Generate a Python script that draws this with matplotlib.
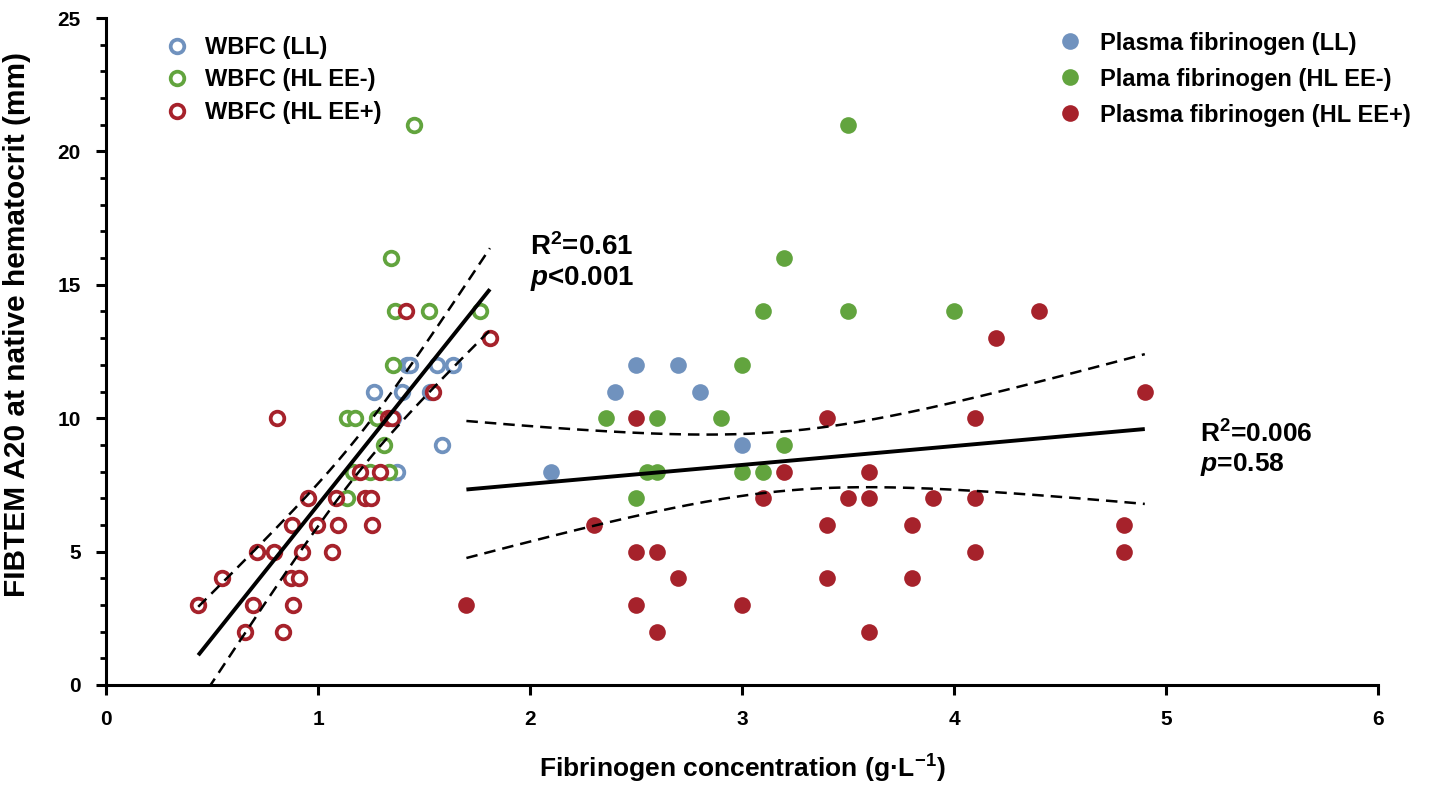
import numpy as np
import matplotlib
matplotlib.use("Agg")
import matplotlib.pyplot as plt

# ---------------- data ----------------
wbfc_ll_x = [1.418, 1.434, 1.56, 1.635, 1.264, 1.395, 1.53, 1.355, 1.583, 1.374]
wbfc_ll_y = [12, 12, 12, 12, 11, 11, 11, 10, 9, 8]

wbfc_hl_neg_x = [1.454, 1.343, 1.363, 1.524, 1.764, 1.352, 1.135, 1.175, 1.28, 1.313, 1.167, 1.245, 1.336, 1.135]
wbfc_hl_neg_y = [21, 16, 14, 14, 14, 12, 10, 10, 10, 9, 8, 8, 8, 7]

wbfc_hl_pos_x = [1.415, 1.811, 1.544, 0.805, 1.332, 1.347, 1.198, 1.292, 0.954, 1.083, 1.222, 1.249,
                 0.876, 0.994, 1.096, 1.253, 0.714, 0.794, 0.925, 1.065, 0.546, 0.873, 0.912,
                 0.435, 0.695, 0.884, 0.656, 0.833]
wbfc_hl_pos_y = [14, 13, 11, 10, 10, 10, 8, 8, 7, 7, 7, 7, 6, 6, 6, 6, 5, 5, 5, 5, 4, 4, 4, 3, 3, 3, 2, 2]

plasma_ll_x = [2.1, 2.4, 2.5, 2.7, 2.8, 3.0]
plasma_ll_y = [8, 11, 12, 12, 11, 9]

plasma_hl_neg_x = [2.36, 2.5, 2.55, 2.6, 2.6, 2.9, 3.0, 3.0, 3.1, 3.1, 3.2, 3.2, 3.5, 3.5, 4.0]
plasma_hl_neg_y = [10, 7, 8, 8, 10, 10, 12, 8, 8, 14, 16, 9, 21, 14, 14]

plasma_hl_pos_x = [1.7, 2.3, 2.5, 2.5, 2.5, 2.6, 2.6, 2.7, 3.0, 3.1, 3.2, 3.4, 3.4, 3.4, 3.5, 3.6, 3.6,
                   3.6, 3.8, 3.8, 3.9, 4.1, 4.1, 4.1, 4.2, 4.4, 4.8, 4.8, 4.9]
plasma_hl_pos_y = [3, 6, 10, 5, 3, 5, 2, 4, 3, 7, 8, 10, 6, 4, 7, 8, 7, 2, 6, 4, 7, 10, 7, 5, 13, 14, 6, 5, 11]

x_ticks = [0, 1, 2, 3, 4, 5, 6]
y_ticks = [0, 5, 10, 15, 20, 25]

wbfc_labels = ["WBFC (LL)", "WBFC (HL EE-)", "WBFC (HL EE+)"]
plasma_labels = ["Plasma fibrinogen (LL)", "Plama fibrinogen (HL EE-)", "Plasma fibrinogen (HL EE+)"]

BLUE = "#7092BE"
GREEN = "#62A43E"
RED = "#A6222B"

# ---------------- style ----------------
plt.rcParams["font.family"] = ["Liberation Sans", "DejaVu Sans"]
plt.rcParams["font.weight"] = "bold"
plt.rcParams["mathtext.fontset"] = "custom"
plt.rcParams["mathtext.rm"] = "Liberation Sans:bold"
plt.rcParams["mathtext.bf"] = "Liberation Sans:bold"
plt.rcParams["mathtext.it"] = "Liberation Sans:bold:italic"

fig = plt.figure(figsize=(14.31, 7.87), dpi=100)
ax = fig.add_axes([106 / 1431, 1 - 685 / 787, (1378 - 106) / 1431, (685 - 18) / 787])

T95 = 2.01


def fit_and_ci(x, y):
    x = np.asarray(x, float)
    y = np.asarray(y, float)
    b, a = np.polyfit(x, y, 1)
    n = len(x)
    resid = y - (a + b * x)
    s = np.sqrt(np.sum(resid ** 2) / (n - 2))
    xm = x.mean()
    sxx = np.sum((x - xm) ** 2)
    xs = np.linspace(x.min(), x.max(), 200)
    yh = a + b * xs
    half = T95 * s * np.sqrt(1 / n + (xs - xm) ** 2 / sxx)
    return xs, yh, yh - half, yh + half


open_kw = dict(linestyle="none", marker="o", markersize=9.8, markerfacecolor="white",
               markeredgewidth=2.7)
fill_kw = dict(linestyle="none", marker="o", markersize=12, markeredgewidth=0)

h_open = []
for xs, ys, c, lab in [(wbfc_ll_x, wbfc_ll_y, BLUE, wbfc_labels[0]),
                       (wbfc_hl_neg_x, wbfc_hl_neg_y, GREEN, wbfc_labels[1]),
                       (wbfc_hl_pos_x, wbfc_hl_pos_y, RED, wbfc_labels[2])]:
    h, = ax.plot(xs, ys, markeredgecolor=c, label=lab, zorder=3, clip_on=False, **open_kw)
    h_open.append(h)

h_fill = []
for xs, ys, c, lab in [(plasma_ll_x, plasma_ll_y, BLUE, plasma_labels[0]),
                       (plasma_hl_neg_x, plasma_hl_neg_y, GREEN, plasma_labels[1]),
                       (plasma_hl_pos_x, plasma_hl_pos_y, RED, plasma_labels[2])]:
    h, = ax.plot(xs, ys, color=c, label=lab, zorder=3, clip_on=False, **fill_kw)
    h_fill.append(h)

# regressions
wx = wbfc_ll_x + wbfc_hl_neg_x + wbfc_hl_pos_x
wy = wbfc_ll_y + wbfc_hl_neg_y + wbfc_hl_pos_y
px = plasma_ll_x + plasma_hl_neg_x + plasma_hl_pos_x
py = plasma_ll_y + plasma_hl_neg_y + plasma_hl_pos_y

for X, Y in [(wx, wy), (px, py)]:
    xs, yh, lo, hi = fit_and_ci(X, Y)
    ax.plot(xs, yh, color="black", lw=2.8, zorder=4, solid_capstyle="butt")
    ax.plot(xs, lo, color="black", lw=1.8, ls=(0, (4.6, 2.8)), zorder=4)
    ax.plot(xs, hi, color="black", lw=1.8, ls=(0, (4.6, 2.8)), zorder=4)

# annotations
ax.text(2.0, 16.4, r"R$^{\mathbf{2}}$=0.61", fontsize=20, fontweight="bold", ha="left", va="center")
ax.text(2.0, 15.25, r"$\mathit{p}$<0.001", fontsize=20, fontweight="bold", ha="left", va="center")
ax.text(5.16, 9.4, r"R$^{\mathbf{2}}$=0.006", fontsize=19, fontweight="bold", ha="left", va="center")
ax.text(5.16, 8.25, r"$\mathit{p}$=0.58", fontsize=19, fontweight="bold", ha="left", va="center")

# axes
ax.set_xlim(0, 6)
ax.set_ylim(0, 25)
ax.set_xticks(x_ticks)
ax.set_yticks(y_ticks)
ax.set_yticks(np.arange(0, 26, 1), minor=True)
ax.set_xticklabels([str(t) for t in x_ticks])
ax.set_yticklabels([str(t) for t in y_ticks])
for s in ["top", "right"]:
    ax.spines[s].set_visible(False)
for s in ["left", "bottom"]:
    ax.spines[s].set_linewidth(2.2)
ax.tick_params(axis="both", which="major", direction="out", length=7, width=2.2,
               labelsize=15, pad=11)
ax.tick_params(axis="y", which="minor", direction="out", length=4.5, width=2.0)
for lab in ax.get_xticklabels() + ax.get_yticklabels():
    lab.set_fontweight("bold")

ax.set_xlabel(r"Fibrinogen concentration (g·L$^{\mathbf{-1}}$)", fontsize=19, fontweight="bold",
              labelpad=17)
ax.set_ylabel("FIBTEM A20 at native hematocrit (mm)", fontsize=21.5, fontweight="bold")
ax.yaxis.set_label_coords(-0.059, 0.541)

leg1 = ax.legend(handles=h_open, loc="upper left", bbox_to_anchor=(0.0465, 0.973), frameon=False,
                 prop={"size": 17, "weight": "bold"}, handlelength=1.0, handletextpad=0.69,
                 labelspacing=0.4, borderpad=0, borderaxespad=0)
ax.add_artist(leg1)
leg2 = ax.legend(handles=h_fill, loc="upper left", bbox_to_anchor=(0.7486, 0.9795), frameon=False,
                 prop={"size": 17, "weight": "bold"}, handlelength=1.0, handletextpad=0.77,
                 labelspacing=0.55, borderpad=0, borderaxespad=0)

fig.savefig("out.png", dpi=100)
